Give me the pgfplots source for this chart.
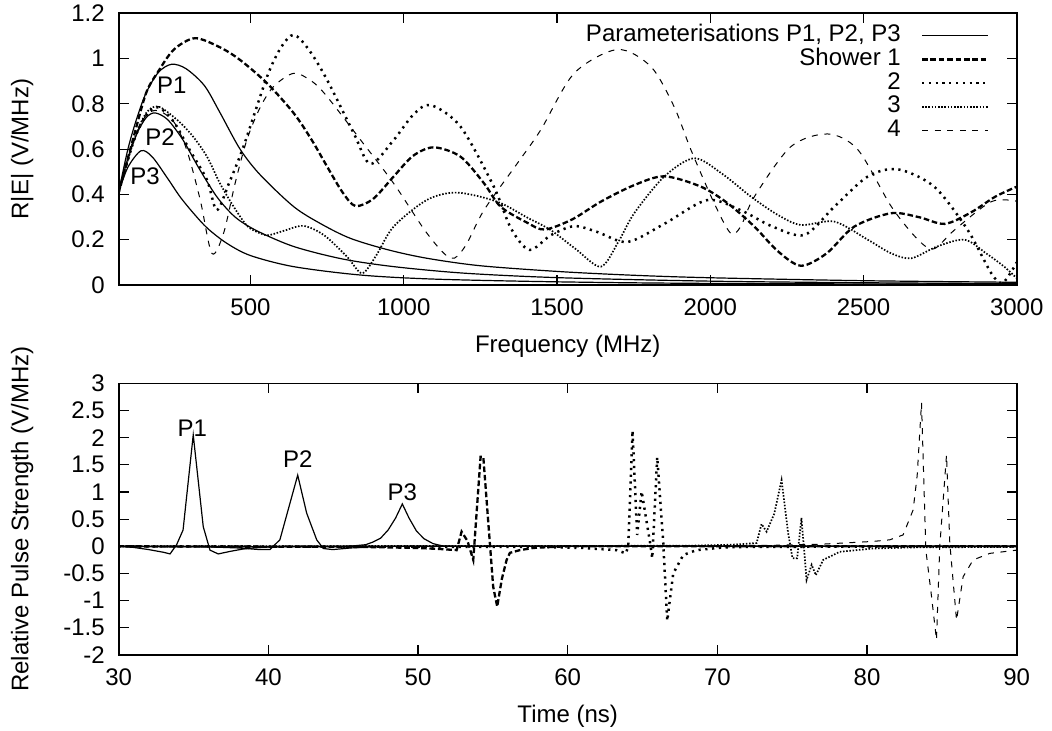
\documentclass[border=0pt]{standalone}
\usepackage{fontspec}
\setmainfont{Liberation Sans}
\usepackage{pgfplots}
\pgfplotsset{compat=1.18}
\newcommand{\lblfont}{\fontsize{12}{14.4}\selectfont}
\pgfplotsset{
  common/.style={
    scale only axis, width=449pt, height=135.85pt,
    axis line style={line width=0.8pt},
    tick align=inside, major tick length=5pt,
    every tick/.style={black, line width=0.6pt},
    /pgf/number format/assume math mode=true,
    /pgf/number format/set thousands separator={},
    scaled ticks=false,
    tick label style={font=\lblfont},
    xticklabel style={yshift=-3.3pt},
    yticklabel style={xshift=-3.5pt},
    every axis x label/.style={at={([yshift=-30.8pt]axis description cs:0.5,0)}, anchor=center, font=\lblfont},
    every axis y label/.style={at={([xshift=-48.3pt]axis description cs:0,0.5)}, anchor=center, rotate=90, font=\lblfont},
  },
  s0/.style={black, line width=0.6pt},
  s1/.style={black, line width=1.15pt, dash pattern=on 2.8pt off 1.4pt},
  s2/.style={black, line width=1.25pt, dash pattern=on 1.1pt off 2.3pt},
  s3/.style={black, line width=0.85pt, dash pattern=on 0.75pt off 0.85pt},
  s4/.style={black, line width=0.5pt, dash pattern=on 3pt off 3.3pt},
}
\begin{document}
\begin{tikzpicture}[font=\lblfont]
\useasboundingbox (0,0) rectangle (526pt,-365.5pt);
% ---------------- top panel ----------------
\begin{axis}[common, at={(59.35pt,-142.5pt)}, anchor=south west,
  xmin=70, xmax=3000, ymin=0, ymax=1.2,
  xtick={500,1000,1500,2000,2500,3000},
  ytick={0,0.2,0.4,0.6,0.8,1,1.2},
  xlabel={Frequency (MHz)}, ylabel={R|E| (V/MHz)},
  legend plot pos=right, legend cell align=right,
  legend image code/.code={\draw[#1] (0pt,0pt) -- (32.8pt,0pt);},
  legend style={draw=none, fill=none, inner sep=0pt, at={(0.9695,0.9625)}, anchor=north east,
    font=\lblfont, row sep=0pt, column sep=10pt,
    nodes={inner sep=0pt, text height=9pt, text depth=2.85pt}},
]
\addplot[s0, smooth] coordinates {
(70,0.41) (100,0.60) (130,0.74) (160,0.85) (200,0.94) (243,0.975) (290,0.955) (350,0.88) (401,0.76) (466,0.60) (532,0.486) (641,0.346) (730,0.27) (826,0.206) (950,0.155) (1076,0.118) (1250,0.085) (1512,0.059) (1750,0.043) (2000,0.032) (2500,0.019) (3000,0.012)};
\addlegendentry{Parameterisations P1, P2, P3}
\addplot[s0, smooth, forget plot] coordinates {
(70,0.41) (100,0.56) (130,0.67) (160,0.74) (189,0.76) (230,0.73) (280,0.64) (330,0.52) (390,0.39) (450,0.30) (520,0.24) (641,0.17) (800,0.115) (968,0.081) (1200,0.052) (1512,0.032) (2000,0.017) (2500,0.01) (3000,0.006)};
\addplot[s0, smooth, forget plot] coordinates {
(70,0.41) (100,0.52) (143,0.593) (180,0.565) (230,0.47) (270,0.39) (314,0.317) (360,0.25) (423,0.184) (500,0.13) (641,0.081) (859,0.044) (1100,0.026) (1500,0.014) (2000,0.007) (3000,0.003)};
\addplot[s1, smooth] coordinates {
(70,0.41) (120,0.66) (160,0.85) (199,0.943) (250,1.04) (319,1.09) (400,1.05) (466,0.994) (554,0.891) (641,0.759) (700,0.64) (750,0.523) (800,0.41) (842,0.349) (900,0.38) (967,0.479) (1030,0.57) (1098,0.608) (1185,0.567) (1262,0.449) (1316,0.346) (1403,0.275) (1460,0.245) (1550,0.29) (1643,0.368) (1750,0.44) (1850,0.48) (1970,0.434) (2057,0.361) (2144,0.258) (2220,0.15) (2296,0.085) (2380,0.14) (2470,0.258) (2590,0.317) (2680,0.30) (2765,0.27) (2850,0.32) (2930,0.39) (3000,0.434)};
\addlegendentry{Shower 1}
\addplot[s2, smooth] coordinates {
(70,0.41) (120,0.64) (160,0.75) (199,0.785) (250,0.72) (300,0.60) (358,0.464) (390,0.331) (430,0.45) (477,0.611) (554,0.92) (600,1.05) (641,1.105) (690,1.04) (750,0.906) (837,0.67) (891,0.535) (967,0.64) (1030,0.75) (1087,0.795) (1185,0.70) (1294,0.434) (1350,0.25) (1410,0.155) (1480,0.22) (1556,0.26) (1630,0.235) (1730,0.19) (1850,0.27) (1990,0.375) (2100,0.33) (2200,0.26) (2307,0.221) (2405,0.346) (2514,0.479) (2612,0.511) (2731,0.434) (2840,0.243) (2917,0.052) (2955,0.01) (3000,0.10)};
\addlegendentry{2}
\addplot[s3, smooth] coordinates {
(70,0.41) (120,0.64) (160,0.76) (199,0.788) (260,0.73) (310,0.66) (358,0.567) (400,0.45) (445,0.346) (490,0.26) (532,0.228) (560,0.22) (610,0.24) (673,0.261) (740,0.22) (815,0.125) (864,0.052) (910,0.13) (967,0.258) (1076,0.376) (1174,0.408) (1305,0.368) (1400,0.30) (1479,0.243) (1560,0.16) (1643,0.081) (1700,0.19) (1752,0.317) (1850,0.479) (1948,0.56) (2040,0.49) (2133,0.39) (2220,0.31) (2296,0.265) (2405,0.28) (2514,0.2) (2590,0.14) (2656,0.118) (2740,0.17) (2830,0.2) (2900,0.14) (2960,0.08) (3000,0.03)};
\addlegendentry{3}
\addplot[s4, smooth] coordinates {
(70,0.41) (120,0.64) (160,0.75) (199,0.77) (250,0.72) (292,0.597) (336,0.376) (374,0.14) (412,0.228) (450,0.45) (488,0.64) (530,0.78) (575,0.876) (641,0.935) (700,0.90) (750,0.832) (859,0.641) (967,0.449) (1076,0.228) (1153,0.118) (1200,0.17) (1262,0.331) (1371,0.538) (1447,0.685) (1556,0.935) (1697,1.04) (1806,0.965) (1882,0.788) (1937,0.597) (2013,0.361) (2067,0.228) (2100,0.26) (2144,0.39) (2263,0.611) (2384,0.667) (2482,0.597) (2591,0.346) (2678,0.2) (2730,0.16) (2797,0.243) (2917,0.368) (3000,0.37)};
\addlegendentry{4}
\node at (axis cs:243,0.884) {P1};
\node at (axis cs:205,0.655) {P2};
\node at (axis cs:156,0.482) {P3};
\end{axis}
% ---------------- bottom panel ----------------
\begin{axis}[common, at={(59.35pt,-327.5pt)}, anchor=south west,
  xmin=30, xmax=90, ymin=-2, ymax=3,
  xtick={30,40,50,60,70,80,90},
  ytick={-2,-1.5,-1,-0.5,0,0.5,1,1.5,2,2.5,3},
  xlabel={Time (ns)}, ylabel={Relative Pulse Strength (V/MHz)},
]
\addplot[s0] coordinates {
(30,0) (31,-0.02) (32,-0.06) (33,-0.11) (33.43,-0.14) (33.87,0.03) (34.3,0.30) (34.98,2.05) (35.65,0.36) (36.1,-0.07) (36.65,-0.14) (37.5,-0.09) (38.3,-0.05) (39,-0.03) (40,-0.01) (41,0) (90,0)};
\addplot[s0] coordinates {
(30,0) (36,-0.01) (38,-0.03) (39.44,-0.06) (40.1,-0.06) (40.77,0.12) (41.44,0.79) (41.96,1.31) (42.56,0.61) (43.23,0.12) (43.67,-0.04) (44.3,-0.06) (45.5,-0.03) (47,-0.01) (48,0) (90,0)};
\addplot[s0] coordinates {
(30,0) (45,-0.01) (46.5,0.03) (47,0.08) (47.5,0.15) (48,0.3) (48.5,0.52) (48.95,0.78) (49.4,0.52) (49.9,0.28) (50.4,0.14) (51,0.05) (51.6,0.01) (52,0) (90,0)};
\addplot[s1] coordinates {
(30,0) (46,-0.01) (48,-0.02) (50,-0.03) (51.5,-0.05) (52.58,-0.07) (52.91,0.27) (53.3,0.1) (53.69,-0.25) (54.18,1.65) (54.36,1.65) (55.02,-0.74) (55.29,-1.11) (55.6,-0.6) (55.92,-0.25) (56.14,-0.12) (56.8,-0.07) (57.7,-0.03) (59,-0.01) (60,0) (90,0)};
\addplot[s2] coordinates {
(30,0) (58,-0.01) (61,-0.03) (63.27,-0.07) (63.89,-0.13) (64.04,0.0) (64.33,2.13) (64.64,0.21) (64.94,1.01) (65.49,0.09) (65.65,-0.22) (65.98,1.64) (66.38,0.09) (66.65,-1.37) (67.05,-0.5) (67.72,-0.16) (68.6,-0.07) (70.4,-0.02) (72,-0.01) (90,0)};
\addplot[s3] coordinates {
(30,0) (68,0.01) (71,0.03) (72.62,0.06) (72.95,0.41) (73.29,0.27) (73.8,0.6) (74.29,1.22) (74.73,0.24) (75.02,-0.22) (75.33,-0.22) (75.62,0.52) (75.96,-0.62) (76.3,-0.34) (76.58,-0.53) (77.07,-0.25) (78.18,-0.1) (80.4,-0.04) (83,-0.02) (90,-0.01)};
\addplot[s4] coordinates {
(30,0) (70,0.01) (74,0.02) (77,0.04) (80.4,0.09) (81.52,0.12) (82.41,0.21) (83.08,0.67) (83.35,1.3) (83.64,2.64) (83.93,-0.07) (84.3,-0.9) (84.64,-1.72) (84.86,0.0) (85.31,1.68) (85.53,0.06) (85.98,-1.36) (86.42,-0.56) (87.09,-0.25) (88.2,-0.13) (90,-0.07)};
\node at (axis cs:34.92,2.17) {P1};
\node at (axis cs:41.96,1.60) {P2};
\node at (axis cs:48.95,1.0) {P3};
\end{axis}
\end{tikzpicture}
\end{document}
